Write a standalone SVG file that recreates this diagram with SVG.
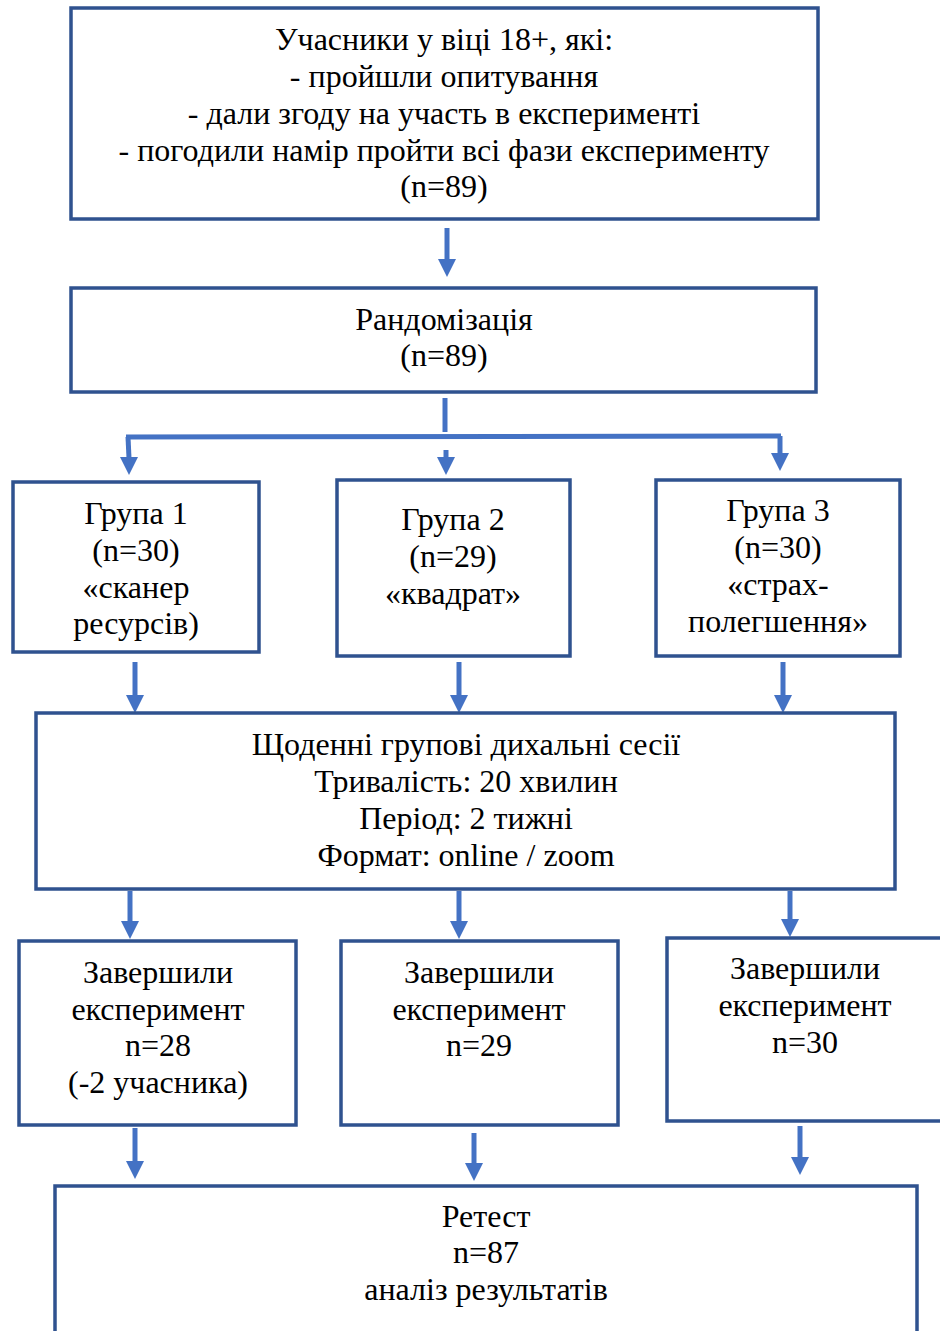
<svg xmlns="http://www.w3.org/2000/svg" width="940" height="1331" viewBox="0 0 940 1331">
<style>
.box{fill:#fff;stroke:#2F528F;stroke-width:3.5}
.t{font-family:"Liberation Serif","Times New Roman",serif;font-size:32px;fill:#000;text-anchor:middle}
.c{stroke:#4472C4;stroke-width:5;fill:none}
.h{fill:#4472C4}
</style>
<rect width="940" height="1331" fill="#fff"/>
<g id="connectors">
<path d="M447,228 L447,260" class="c"/>
<path d="M438,259 L456,259 L447,277 Z" class="h"/>
<path d="M445,398 L445,432" class="c"/>
<path d="M126,437 L781,436" class="c"/>
<path d="M128,437 L129,458" class="c"/>
<path d="M120,457 L138,457 L129,475 Z" class="h"/>
<path d="M446,450 L446,458" class="c"/>
<path d="M437,457 L455,457 L446,475 Z" class="h"/>
<path d="M780,436 L780,454" class="c"/>
<path d="M771,453 L789,453 L780,471 Z" class="h"/>
<path d="M135,662 L135,696" class="c"/>
<path d="M126,695 L144,695 L135,713 Z" class="h"/>
<path d="M459,662 L459,696" class="c"/>
<path d="M450,695 L468,695 L459,713 Z" class="h"/>
<path d="M783,662 L783,696" class="c"/>
<path d="M774,695 L792,695 L783,713 Z" class="h"/>
<path d="M130,891 L130,922" class="c"/>
<path d="M121,921 L139,921 L130,939 Z" class="h"/>
<path d="M459,891 L459,922" class="c"/>
<path d="M450,921 L468,921 L459,939 Z" class="h"/>
<path d="M790,891 L790,920" class="c"/>
<path d="M781,919 L799,919 L790,937 Z" class="h"/>
<path d="M135,1128 L135,1162" class="c"/>
<path d="M126,1161 L144,1161 L135,1179 Z" class="h"/>
<path d="M474,1133 L474,1164" class="c"/>
<path d="M465,1163 L483,1163 L474,1181 Z" class="h"/>
<path d="M800,1126 L800,1158" class="c"/>
<path d="M791,1157 L809,1157 L800,1175 Z" class="h"/>
</g>
<g id="participants">
<rect class="box" x="71" y="8" width="747" height="211"/>
<text class="t" x="444" y="50">Учасники у віці 18+, які:</text>
<text class="t" x="444" y="87">- пройшли опитування</text>
<text class="t" x="444" y="124">- дали згоду на участь в експерименті</text>
<text class="t" x="444" y="161">- погодили намір пройти всі фази експерименту</text>
<text class="t" x="444" y="197">(n=89)</text>
</g>
<g id="randomization">
<rect class="box" x="71" y="288" width="745" height="104"/>
<text class="t" x="444" y="330">Рандомізація</text>
<text class="t" x="444" y="366">(n=89)</text>
</g>
<g id="group1">
<rect class="box" x="13" y="482" width="246" height="170"/>
<text class="t" x="136" y="524">Група 1</text>
<text class="t" x="136" y="561">(n=30)</text>
<text class="t" x="136" y="598">«сканер</text>
<text class="t" x="136" y="634">ресурсів)</text>
</g>
<g id="group2">
<rect class="box" x="337" y="480" width="233" height="176"/>
<text class="t" x="453" y="530">Група 2</text>
<text class="t" x="453" y="567">(n=29)</text>
<text class="t" x="453" y="604">«квадрат»</text>
</g>
<g id="group3">
<rect class="box" x="656" y="480" width="244" height="176"/>
<text class="t" x="778" y="521">Група 3</text>
<text class="t" x="778" y="558">(n=30)</text>
<text class="t" x="778" y="595">«страх-</text>
<text class="t" x="778" y="632">полегшення»</text>
</g>
<g id="sessions">
<rect class="box" x="36" y="713" width="859" height="176"/>
<text class="t" x="466" y="755">Щоденні групові дихальні сесії</text>
<text class="t" x="466" y="792">Тривалість: 20 хвилин</text>
<text class="t" x="466" y="829">Період: 2 тижні</text>
<text class="t" x="466" y="866">Формат: online / zoom</text>
</g>
<g id="done1">
<rect class="box" x="19" y="941" width="277" height="184"/>
<text class="t" x="158" y="983">Завершили</text>
<text class="t" x="158" y="1020">експеримент</text>
<text class="t" x="158" y="1056">n=28</text>
<text class="t" x="158" y="1093">(-2 учасника)</text>
</g>
<g id="done2">
<rect class="box" x="341" y="941" width="277" height="184"/>
<text class="t" x="479" y="983">Завершили</text>
<text class="t" x="479" y="1020">експеримент</text>
<text class="t" x="479" y="1056">n=29</text>
</g>
<g id="done3">
<rect class="box" x="667" y="938" width="290" height="183"/>
<text class="t" x="805" y="979">Завершили</text>
<text class="t" x="805" y="1016">експеримент</text>
<text class="t" x="805" y="1053">n=30</text>
</g>
<g id="retest">
<rect class="box" x="55" y="1186" width="862" height="160"/>
<text class="t" x="486" y="1227">Ретест</text>
<text class="t" x="486" y="1263">n=87</text>
<text class="t" x="486" y="1300">аналіз результатів</text>
</g>
</svg>
